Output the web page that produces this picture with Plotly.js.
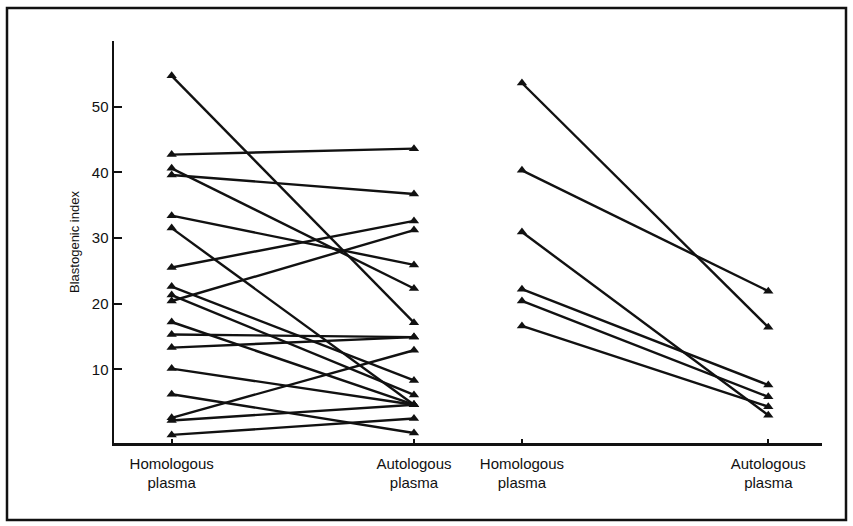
<!DOCTYPE html>
<html>
<head>
<meta charset="utf-8">
<script src="https://cdn.plot.ly/plotly-3.0.1.min.js"></script>
<style>
  html, body { margin: 0; padding: 0; background: #fff; }
  #chart { width: 853px; height: 526px; }
</style>
</head>
<body>
<div id="chart"></div>
<script>
// ---- data ----
const categories = ['Homologous plasma', 'Autologous plasma'];
const categoryLabels = ['Homologous<br>plasma', 'Autologous<br>plasma'];
const yTickValues = [10, 20, 30, 40, 50];
const yAxisTitle = 'Blastogenic index';

// left panel: paired values (homologous -> autologous)
const leftHomologous = [54.7, 42.7, 40.6, 39.6, 33.4, 31.5, 25.5, 22.6, 21.3, 20.4, 17.2, 15.3, 13.3, 10.1, 6.2, 2.6, 2.2, 0.0];
const leftAutologous = [17.1, 43.6, 22.3, 36.7, 25.9, 4.6, 32.6, 8.3, 6.1, 31.2, 4.6, 14.9, 14.9, 4.6, 0.3, 12.9, 4.6, 2.5];

// right panel: paired values
const rightHomologous = [53.6, 40.3, 30.9, 22.2, 20.4, 16.6];
const rightAutologous = [16.4, 21.9, 3.0, 7.6, 5.8, 4.3];

// ---- layout geometry (pixels) ----
const W = 853, H = 526;
const M = { l: 114, r: 31, t: 41, b: 83 };
const plotW = W - M.l - M.r, plotH = H - M.t - M.b;
const px2paperX = p => (p - M.l) / plotW;
const px2paperY = p => (H - M.b - p) / plotH;

const FONT = 'Liberation Sans, Arial, Helvetica, sans-serif';
const INK = '#111111';

const xIdx = categories.map((c, i) => i);

function pairTraces(a, b, xa) {
  return a.map((v, i) => ({
    type: 'scatter',
    mode: 'lines+markers',
    x: xIdx,
    y: [v, b[i]],
    xaxis: xa,
    yaxis: 'y',
    line: { color: INK, width: 2.4 },
    marker: { symbol: 'triangle-up', size: 9, color: INK },
    showlegend: false,
    hoverinfo: 'skip'
  }));
}

const data = [
  ...pairTraces(leftHomologous, leftAutologous, 'x'),
  ...pairTraces(rightHomologous, rightAutologous, 'x2')
];

const xCommon = {
  tickmode: 'array',
  tickvals: xIdx,
  ticktext: categoryLabels,
  ticks: 'inside',
  ticklen: 4,
  tickwidth: 2,
  tickcolor: INK,
  ticklabelstandoff: 5,
  showline: true,
  linecolor: INK,
  linewidth: 2.5,
  showgrid: false,
  zeroline: false,
  tickfont: { family: FONT, size: 15, color: INK },
  fixedrange: true
};

const layout = {
  width: W,
  height: H,
  margin: M,
  paper_bgcolor: '#ffffff',
  plot_bgcolor: '#ffffff',
  showlegend: false,
  xaxis: Object.assign({}, xCommon, { domain: [0, 0.5], range: [-0.238, 1.223], anchor: 'y' }),
  xaxis2: Object.assign({}, xCommon, { domain: [0.5, 1], range: [-0.219, 1.218], anchor: 'y' }),
  yaxis: {
    range: [-1.23, 60.0],
    tickmode: 'array',
    tickvals: yTickValues,
    ticks: 'inside',
    ticklen: 8,
    tickwidth: 2,
    tickcolor: INK,
    showline: true,
    linecolor: INK,
    linewidth: 2.5,
    showgrid: false,
    zeroline: false,
    tickfont: { family: FONT, size: 15, color: INK },
    title: { text: yAxisTitle, font: { family: FONT, size: 13, color: INK }, standoff: 10 },
    fixedrange: true
  },
  shapes: [{
    type: 'rect',
    xref: 'paper', yref: 'paper',
    x0: px2paperX(7), x1: px2paperX(846),
    y0: px2paperY(520), y1: px2paperY(8),
    line: { color: INK, width: 2.5 },
    fillcolor: 'rgba(0,0,0,0)',
    layer: 'below'
  }]
};

Plotly.newPlot('chart', data, layout, { displayModeBar: false, staticPlot: true });
</script>
</body>
</html>
